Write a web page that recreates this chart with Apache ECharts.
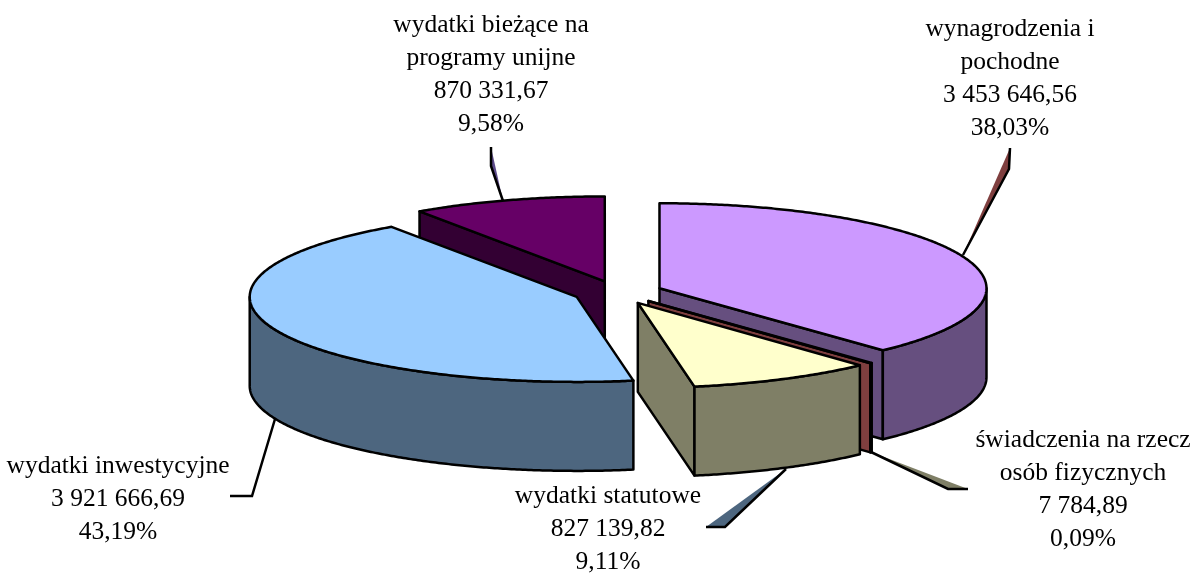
<!DOCTYPE html>
<html>
<head>
<meta charset="utf-8">
<title>Wydatki</title>
<script src="https://cdn.jsdelivr.net/npm/echarts@6/dist/echarts.min.js"></script>
<style>
  html, body { margin: 0; padding: 0; background: #fff; }
  #chart { width: 1195px; height: 573px; }
</style>
</head>
<body>
<div id="chart"></div>
<script>
// data, clockwise from 12 o'clock
var categories = ['wynagrodzenia i\npochodne', 'świadczenia na rzecz\nosób fizycznych', 'wydatki statutowe', 'wydatki inwestycyjne', 'wydatki bieżące na\nprogramy unijne'];
var values = [3453646.56, 7784.89, 827139.82, 3921666.69, 870331.67];

// styles
var topColors = ['#CC99FF', '#8B4545', '#FFFFCC', '#99CCFF', '#660066'];
var wallColors = ['#664F7F', '#7F3F3F', '#7F7F66', '#4D667F', '#330033'];

// pie layout
var centerX = 618, centerY = 292.5, radiusX = 327, radiusY = 85, depth = 89, explode = 44.6;
var font = '25.5px "Liberation Serif"', lineHeight = 33, lineW = 2.5;

// label block centres and leader lines, same order as categories
var labelPos = [[1010, 79], [1083, 490], [608, 529], [118, 499], [491, 75]];
var leaders = [
  [[1010, 148], [1009, 169], [963, 255]],
  [[871, 452], [948, 489], [968, 489]],
  [[786, 469], [725, 527], [706, 527]],
  [[275, 419], [252, 496], [230, 496]],
  [[491, 147], [491, 166], [503, 201]]
];
var wedgeColors = ['#7F3F3F', '#7F7F66', '#4D667F', null, '#5C4A8A'];

var total = values.reduce(function(a, b) { return a + b; }, 0);
var toRad = Math.PI / 180;

var slices = [];
var acc = 0;
for (var i = 0; i < values.length; ++i) {
  var a0 = acc / total * 360;
  acc += values[i];
  var a1 = acc / total * 360;
  var mid = (a0 + a1) / 2;
  slices.push({
    index: i,
    a0: a0,
    a1: a1,
    cx: centerX + explode * Math.sin(mid * toRad),
    cy: centerY - explode * (radiusY / radiusX) * Math.cos(mid * toRad),
    back: Math.cos(mid * toRad)
  });
}
// paint back slices first
var drawOrder = slices.slice().sort(function(a, b) { return b.back - a.back; });

function rim(s, a, h) {
  return [s.cx + radiusX * Math.sin(a * toRad), s.cy - radiusY * Math.cos(a * toRad) + h];
}
function arc(s, from, to, h) {
  var pts = [];
  var steps = Math.max(1, Math.ceil((to - from) * 2));
  for (var k = 0; k <= steps; ++k) {
    pts.push(rim(s, from + (to - from) * k / steps, h));
  }
  return pts;
}
function poly(points, fill) {
  return {
    type: 'polygon',
    shape: { points: points },
    style: { fill: fill, stroke: '#000', lineWidth: lineW, lineJoin: 'round' }
  };
}
function radialWall(s, a, fill) {
  var p = rim(s, a, 0);
  return poly([[s.cx, s.cy], p, [p[0], p[1] + depth], [s.cx, s.cy + depth]], fill);
}
function formatValue(v) {
  var parts = v.toFixed(2).split('.');
  return parts[0].replace(/\B(?=(\d{3})+$)/g, ' ') + ',' + parts[1];
}

function renderSlice(params, api) {
  var s = drawOrder[params.dataIndex];
  var i = s.index;
  var children = [];

  // leader line with its little wedge
  if (wedgeColors[i]) {
    children.push({
      type: 'polygon',
      shape: { points: [leaders[i][0], leaders[i][2], leaders[i][1]] },
      style: { fill: wedgeColors[i], stroke: null }
    });
  }
  children.push({
    type: 'polyline',
    shape: { points: leaders[i] },
    style: { fill: null, stroke: '#000', lineWidth: lineW }
  });

  // walls that face the viewer
  if (Math.cos((s.a0 - 90) * toRad) < -0.01) {
    children.push(radialWall(s, s.a0, wallColors[i]));
  }
  if (Math.cos((s.a1 + 90) * toRad) < -0.01) {
    children.push(radialWall(s, s.a1, wallColors[i]));
  }
  var from = Math.max(s.a0, 90), to = Math.min(s.a1, 270);
  if (to > from) {
    children.push(poly(arc(s, from, to, 0).concat(arc(s, from, to, depth).reverse()), wallColors[i]));
  }

  // top face
  children.push(poly([[s.cx, s.cy]].concat(arc(s, s.a0, s.a1, 0)), topColors[i]));

  // label
  var v = api.value(0);
  children.push({
    type: 'text',
    style: {
      x: labelPos[i][0],
      y: labelPos[i][1],
      text: categories[i] + '\n' + formatValue(v) + '\n' + (v / total * 100).toFixed(2).replace('.', ',') + '%',
      font: font,
      lineHeight: lineHeight,
      fill: '#000',
      align: 'center',
      verticalAlign: 'middle'
    }
  });

  return { type: 'group', children: children };
}

var myChart = echarts.init(document.getElementById('chart'), null, { renderer: 'canvas' });
var option = {
  animation: false,
  backgroundColor: '#fff',
  series: [{
    type: 'custom',
    coordinateSystem: 'none',
    renderItem: renderSlice,
    data: drawOrder.map(function(s) { return [values[s.index]]; })
  }]
};
myChart.setOption(option);
</script>
</body>
</html>
